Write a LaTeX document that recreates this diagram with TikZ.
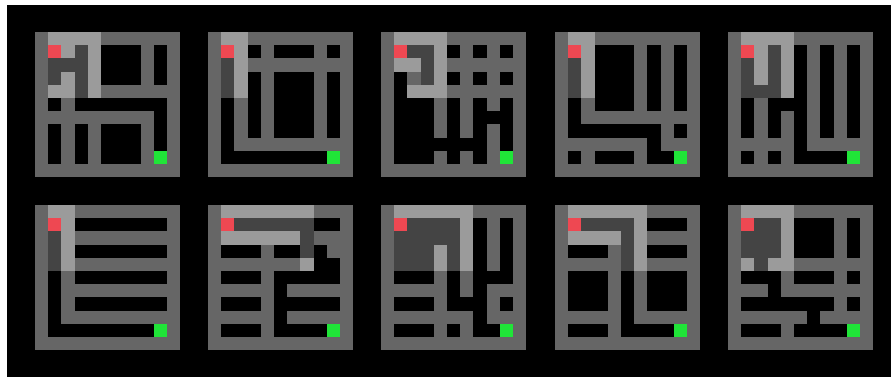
\documentclass[tikz,border=0pt]{standalone}
\usepackage{tikz}

\definecolor{wallgray}{RGB}{102,102,102}
\definecolor{seenwall}{RGB}{155,155,155}
\definecolor{seenfree}{RGB}{68,68,68}
\definecolor{agentred}{RGB}{238,72,82}
\definecolor{goalgreen}{RGB}{32,228,56}

% one row of a maze: W wall, B free, L seen wall, D seen free, R agent, G goal
\newcommand\mazerow[2]{\def\cellx{0}\edef\celly{#1}\expandafter\mazecells#2\relax}
\def\mazecells#1{%
  \ifx#1\relax\else
    \fill[cell#1] (\cellx,\celly) rectangle ++(1,1);%
    \pgfmathtruncatemacro\cellx{\cellx+1}%
    \expandafter\mazecells
  \fi}

\begin{document}
\begin{tikzpicture}[
    x=0.3mm, y=-0.3mm,
    cellW/.style={fill=wallgray},
    cellB/.style={fill=black},
    cellL/.style={fill=seenwall},
    cellD/.style={fill=seenfree},
    cellR/.style={fill=agentred},
    cellG/.style={fill=goalgreen},
    maze/.style={shift={#1}, scale=13.2}
]
    \useasboundingbox (0,0) rectangle (896,377);
    \fill[white] (0,0) rectangle (896,377);
    \fill[black] (7,5) rectangle (891,377);

    % top row
    \begin{scope}[maze={(35,32)}]
        \foreach \rowtext [count=\r from 0] in {
            WLLLLWWWWWW, WRLDLBBBWBW, WDDDLBBBWBW, WDLDLBBBWBW,
            WLLDLWWWWWW, WBWBBBBBBBW, WWWWWWWWWBW, WBWBWBBBWBW,
            WBWBWBBBWBW, WBWBWBBBWGW, WWWWWWWWWWW}
            {\mazerow{\r}{\rowtext}}
    \end{scope}
    \begin{scope}[maze={(208,32)}]
        \foreach \rowtext [count=\r from 0] in {
            WLLWWWWWWWW, WRLBWBBBWBW, WDLWWWWWWWW, WDLBWBBBWBW,
            WDLBWBBBWBW, WBWBWBBBWBW, WBWBWBBBWBW, WBWBWBBBWBW,
            WBWWWWWWWWW, WBBBBBBBBGW, WWWWWWWWWWW}
            {\mazerow{\r}{\rowtext}}
    \end{scope}
    \begin{scope}[maze={(381,32)}]
        \foreach \rowtext [count=\r from 0] in {
            WLLLLWWWWWW, WRDDLBWBWBW, WLLDLWWWWWW, WBWDLBWBWBW,
            WBLLLWWWWWW, WBBBWBWBWBW, WBBBWBWBBBW, WBBBWBWBWBW,
            WBBBBBBBWBW, WBBBWBWBWGW, WWWWWWWWWWW}
            {\mazerow{\r}{\rowtext}}
    \end{scope}
    \begin{scope}[maze={(555,32)}]
        \foreach \rowtext [count=\r from 0] in {
            WLLWWWWWWWW, WRLBBBWBWBW, WDLBBBWBWBW, WDLBBBWBWBW,
            WDLBBBWBWBW, WBWBBBWBWBW, WBWWWWWWWWW, WBBBBBBBWBW,
            WWWWWWWBWWW, WBWBBBWBBGW, WWWWWWWWWWW}
            {\mazerow{\r}{\rowtext}}
    \end{scope}
    \begin{scope}[maze={(728,32)}]
        \foreach \rowtext [count=\r from 0] in {
            WLLLLWWWWWW, WRLDLBWBWBW, WDLDLBWBWBW, WDLDLBWBWBW,
            WDDDLBWBWBW, WBWBBBWBWBW, WBWBWBWBWBW, WBWBWBWBWBW,
            WWWWWBWWWWW, WBWBWBBBBGW, WWWWWWWWWWW}
            {\mazerow{\r}{\rowtext}}
    \end{scope}

    % bottom row
    \begin{scope}[maze={(35,205)}]
        \foreach \rowtext [count=\r from 0] in {
            WLLWWWWWWWW, WRLBBBBBBBW, WDLWWWWWWWW, WDLBBBBBBBW,
            WDLWWWWWWWW, WBWBBBBBBBW, WBWWWWWWWWW, WBWBBBBBBBW,
            WBWWWWWWWWW, WBBBBBBBBGW, WWWWWWWWWWW}
            {\mazerow{\r}{\rowtext}}
    \end{scope}
    \begin{scope}[maze={(208,205)}]
        \foreach \rowtext [count=\r from 0] in {
            WLLLLLLLWWW, WRDDDDDDBBW, WLLLLLLDWWW, WBBBWBBDBWW,
            WWWWWWWLBBW, WBBBWBBBBBW, WWWWWBWWWWW, WBBBWBBBBBW,
            WWWWWBWWWWW, WBBBWBBBBGW, WWWWWWWWWWW}
            {\mazerow{\r}{\rowtext}}
    \end{scope}
    \begin{scope}[maze={(381,205)}]
        \foreach \rowtext [count=\r from 0] in {
            WLLLLLLWWWW, WRDDDDLBWBW, WDDDDDLBWBW, WDDDLDLBWBW,
            WDDDLDLBWBW, WBBBWBWBBBW, WWWWWBWBWWW, WBBBWBBBWBW,
            WWWWWWWBWWW, WBBBWBWBBGW, WWWWWWWWWWW}
            {\mazerow{\r}{\rowtext}}
    \end{scope}
    \begin{scope}[maze={(555,205)}]
        \foreach \rowtext [count=\r from 0] in {
            WLLLLLLWWWW, WRDDDDLBBBW, WLLLLDLWWWW, WBBBWDLBBBW,
            WWWWWDLWWWW, WBBBWBWBBBW, WBBBWBWBBBW, WBBBWBWBBBW,
            WWWWWBWWWWW, WBBBWBBBBGW, WWWWWWWWWWW}
            {\mazerow{\r}{\rowtext}}
    \end{scope}
    \begin{scope}[maze={(728,205)}]
        \foreach \rowtext [count=\r from 0] in {
            WLLLLWWWWWW, WRDDLBBBWBW, WDDDLBBBWBW, WDDDLBBBWBW,
            WLDLLWWWWWW, WBBBWBBBWBW, WWWBWWWWWWW, WBBBBBBBWBW,
            WWWWWWBWWWW, WBBBWBBBBGW, WWWWWWWWWWW}
            {\mazerow{\r}{\rowtext}}
    \end{scope}
\end{tikzpicture}
\end{document}
